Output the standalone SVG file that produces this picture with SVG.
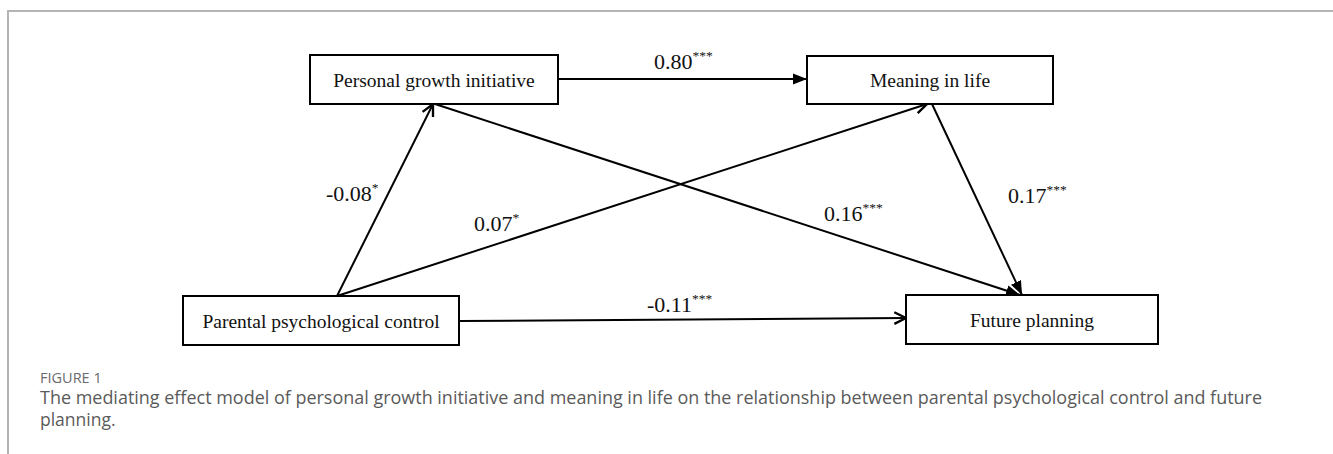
<svg xmlns="http://www.w3.org/2000/svg" width="1333" height="454" viewBox="0 0 1333 454">
  <style>
    .box { fill: #ffffff; stroke: #000000; stroke-width: 2; }
    .node-text { font-family: "Liberation Serif", "Times New Roman", serif; font-size: 19.5px; fill: #111111; text-anchor: middle; }
    .label { font-family: "Liberation Serif", "Times New Roman", serif; font-size: 22px; fill: #111111; }
    .sup { font-size: 13.5px; }
    .edge { stroke: #000000; stroke-width: 2; fill: none; }
    .frame { stroke: #b4b4b4; stroke-width: 2; fill: none; }
    .fig { font-family: "Open Sans", "Noto Sans", sans-serif; font-size: 14.5px; fill: #6b6b6b; }
    .caption { font-family: "Open Sans", "Noto Sans", sans-serif; font-size: 17.5px; fill: #5a5a5a; }
  </style>
  <defs>
    <marker id="open" markerUnits="userSpaceOnUse" markerWidth="14" markerHeight="14" viewBox="0 0 12 12" refX="11" refY="6" orient="auto">
      <path d="M1,1 L11,6 L1,11" fill="none" stroke="#000" stroke-width="2"/>
    </marker>
    <marker id="solid" markerUnits="userSpaceOnUse" markerWidth="14" markerHeight="12" viewBox="0 0 14 12" refX="14" refY="6" orient="auto">
      <path d="M0,0.5 L14,6 L0,11.5 z" fill="#000"/>
    </marker>
  </defs>

  <path class="frame" d="M8,454 L8,11 L1333,11"/>

  <g id="connectors">
    <line class="edge" x1="558" y1="79" x2="807" y2="79" marker-end="url(#solid)"/>
    <line class="edge" x1="337" y1="296" x2="433" y2="104" marker-end="url(#open)"/>
    <line class="edge" x1="337" y1="296" x2="927" y2="104" marker-end="url(#open)"/>
    <line class="edge" x1="435" y1="104" x2="1020" y2="295" marker-end="url(#solid)"/>
    <line class="edge" x1="932" y1="104" x2="1022" y2="295" marker-end="url(#solid)"/>
    <line class="edge" x1="459" y1="321" x2="906" y2="318" marker-end="url(#open)"/>

    <text class="label" x="654" y="69">0.80<tspan class="sup" dy="-9">***</tspan></text>
    <text class="label" x="326" y="201">-0.08<tspan class="sup" dy="-9">*</tspan></text>
    <text class="label" x="474" y="231">0.07<tspan class="sup" dy="-9">*</tspan></text>
    <text class="label" x="824" y="221">0.16<tspan class="sup" dy="-9">***</tspan></text>
    <text class="label" x="1008" y="203">0.17<tspan class="sup" dy="-9">***</tspan></text>
    <text class="label" x="647" y="312">-0.11<tspan class="sup" dy="-9">***</tspan></text>
  </g>

  <g id="node-pgi">
    <rect class="box" x="310" y="55" width="248" height="49"/>
    <text class="node-text" x="434" y="87">Personal growth initiative</text>
  </g>
  <g id="node-mil">
    <rect class="box" x="807" y="56" width="246" height="48"/>
    <text class="node-text" x="930" y="87">Meaning in life</text>
  </g>
  <g id="node-ppc">
    <rect class="box" x="183" y="296" width="276" height="49"/>
    <text class="node-text" x="321" y="328">Parental psychological control</text>
  </g>
  <g id="node-fp">
    <rect class="box" x="906" y="295" width="252" height="49"/>
    <text class="node-text" x="1032" y="327">Future planning</text>
  </g>

  <text class="fig" x="40" y="383">FIGURE 1</text>
  <text class="caption" x="40" y="404" textLength="1222" lengthAdjust="spacingAndGlyphs">The mediating effect model of personal growth initiative and meaning in life on the relationship between parental psychological control and future</text>
  <text class="caption" x="40" y="426">planning.</text>
</svg>
